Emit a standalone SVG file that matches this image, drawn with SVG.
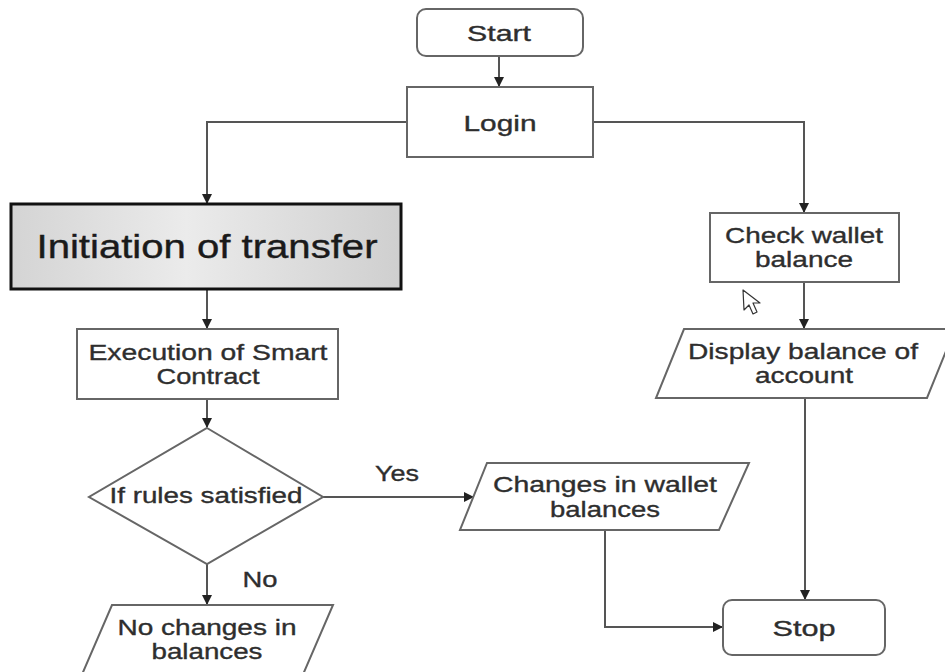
<svg xmlns="http://www.w3.org/2000/svg" width="945" height="672" viewBox="0 0 945 672">
<style>
.box{fill:#fff;stroke:#666;stroke-width:2}
.t{font-family:"Liberation Sans",Arial,sans-serif;font-size:22px;fill:#2e2e2e;stroke:#2e2e2e;stroke-width:0.35;text-anchor:middle}
.c{fill:none;stroke:#555;stroke-width:2}
</style>
<defs>
<marker id="ah" markerWidth="10" markerHeight="10" refX="9" refY="5" orient="auto" markerUnits="userSpaceOnUse">
<path d="M0,0 L10,5 L0,10 Z" fill="#222"/>
</marker>
<linearGradient id="g" x1="0" y1="0" x2="1" y2="0">
<stop offset="0" stop-color="#d4d4d4"/>
<stop offset="0.45" stop-color="#ebebeb"/>
<stop offset="1" stop-color="#cfcfcf"/>
</linearGradient>
</defs>
<rect width="945" height="672" fill="#fff"/>
<g id="connectors">
<path class="c" d="M499,56 V86" marker-end="url(#ah)"/>
<path class="c" d="M407,122 H207 V203" marker-end="url(#ah)"/>
<path class="c" d="M593,122 H804 V212" marker-end="url(#ah)"/>
<path class="c" d="M207,290 V328" marker-end="url(#ah)"/>
<path class="c" d="M207,399 V427" marker-end="url(#ah)"/>
<path class="c" d="M323,497 H473" marker-end="url(#ah)"/>
<path class="c" d="M207,564 V604" marker-end="url(#ah)"/>
<path class="c" d="M605,530 V627 H722" marker-end="url(#ah)"/>
<path class="c" d="M804,282 V328" marker-end="url(#ah)"/>
<path class="c" d="M805,398 V599" marker-end="url(#ah)"/>
<text class="t" x="397" y="481" textLength="44" lengthAdjust="spacingAndGlyphs">Yes</text>
<text class="t" x="260" y="587" textLength="35" lengthAdjust="spacingAndGlyphs">No</text>
</g>
<g id="start">
<rect class="box" x="417" y="9" width="166" height="47" rx="9"/>
<text class="t" x="499" y="41" textLength="64" lengthAdjust="spacingAndGlyphs">Start</text>
</g>
<g id="login">
<rect class="box" x="407" y="87" width="186" height="70"/>
<text class="t" x="500" y="131" textLength="73" lengthAdjust="spacingAndGlyphs">Login</text>
</g>
<g id="initiation">
<rect x="11" y="204" width="390" height="85" fill="url(#g)" stroke="#111" stroke-width="3"/>
<text class="t" style="font-size:34px;fill:#1a1a1a;stroke:#1a1a1a;stroke-width:0.4" x="207" y="258" textLength="341" lengthAdjust="spacingAndGlyphs">Initiation of transfer</text>
</g>
<g id="execution">
<rect class="box" x="77" y="329" width="261" height="70"/>
<text class="t" x="208" y="360" textLength="239" lengthAdjust="spacingAndGlyphs">Execution of Smart</text>
<text class="t" x="208" y="384" textLength="103" lengthAdjust="spacingAndGlyphs">Contract</text>
</g>
<g id="decision">
<polygon class="box" points="207,428 323,497 207,564 89,497"/>
<text class="t" x="206" y="503" textLength="193" lengthAdjust="spacingAndGlyphs">If rules satisfied</text>
</g>
<g id="nochanges">
<polygon class="box" points="112,605 333,605 292,700 71,700"/>
<text class="t" x="207" y="635" textLength="179" lengthAdjust="spacingAndGlyphs">No changes in</text>
<text class="t" x="207" y="659" textLength="111" lengthAdjust="spacingAndGlyphs">balances</text>
</g>
<g id="changes">
<polygon class="box" points="487,463 749,463 719,530 460,530"/>
<text class="t" x="605" y="492" textLength="224" lengthAdjust="spacingAndGlyphs">Changes in wallet</text>
<text class="t" x="605" y="517" textLength="110" lengthAdjust="spacingAndGlyphs">balances</text>
</g>
<g id="check">
<rect class="box" x="710" y="213" width="189" height="69"/>
<text class="t" x="804" y="243" textLength="158" lengthAdjust="spacingAndGlyphs">Check wallet</text>
<text class="t" x="804" y="267" textLength="98" lengthAdjust="spacingAndGlyphs">balance</text>
</g>
<g id="display">
<polygon class="box" points="684,329 955,329 927,398 656,398"/>
<text class="t" x="803" y="359" textLength="230" lengthAdjust="spacingAndGlyphs">Display balance of</text>
<text class="t" x="804" y="383" textLength="98" lengthAdjust="spacingAndGlyphs">account</text>
</g>
<g id="stop">
<rect class="box" x="723" y="600" width="162" height="55" rx="9"/>
<text class="t" x="804" y="636" textLength="63" lengthAdjust="spacingAndGlyphs">Stop</text>
</g>
<g id="cursor">
<path d="M743,290 L744,310 L749,305 L753,314 L757,312 L753,303 L760,303 Z" fill="#fff" stroke="#333" stroke-width="1.2" stroke-linejoin="round"/>
</g>
</svg>
